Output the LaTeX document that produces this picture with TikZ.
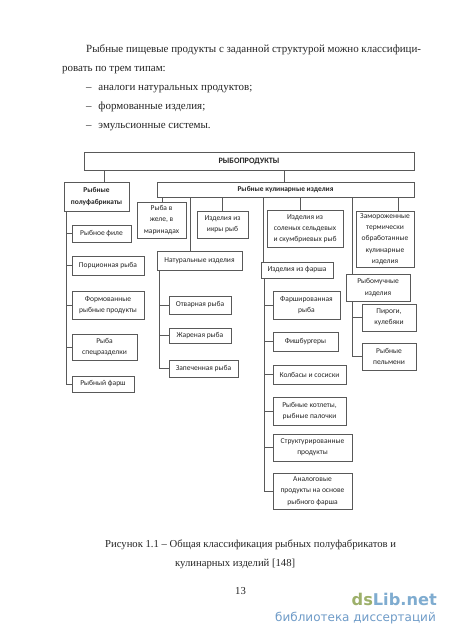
\documentclass[tikz,border=0pt]{standalone}
\usepackage{fontspec}
\setmainfont{Liberation Serif}
\newfontfamily\boxfont{Carlito}
\newfontfamily\markfont{DejaVu Sans}
\definecolor{ln}{gray}{0.35}
\definecolor{txt}{gray}{0.15}
\definecolor{markblue}{HTML}{7FACD0}
\definecolor{markgreen}{HTML}{9DB06A}
\definecolor{subblue}{HTML}{6E9BC8}
\tikzset{
  cbox/.style={draw=ln,line width=0.7pt,inner sep=0pt,align=center,text=txt,font=\boxfont\fontsize{7.5}{11.3}\selectfont},
  cbold/.style={cbox,font=\boxfont\bfseries\fontsize{7.4}{11.3}\selectfont},
  cmain/.style={cbox,font=\boxfont\bfseries\fontsize{8.2}{11.3}\selectfont},
  link/.style={draw=ln,line width=0.7pt},
  para/.style={anchor=base west,inner sep=0pt,text=txt,font=\fontsize{10.97}{13}\selectfont},
  capt/.style={anchor=base west,inner sep=0pt,text=txt,font=\fontsize{10.67}{13}\selectfont},
}
\newcommand{\bx}[7][cbox]{%
  \pgfmathsetmacro{\cxx}{(#3+#5)/2}\pgfmathsetmacro{\cyy}{(#4+#6)/2}%
  \pgfmathsetmacro{\wdd}{#5-#3}\pgfmathsetmacro{\htt}{#6-#4}%
  \node[#1,minimum width=\wdd pt,minimum height=\htt pt] (#2) at (\cxx,\cyy) {#7};}
\begin{document}
\begin{tikzpicture}[x=1pt,y=-1pt]
\useasboundingbox (0,0) rectangle (450,637);
\fill[white] (0,0) rectangle (450,637);
% body text
\node[para] (p1) at (86,52) {Рыбные пищевые продукты с заданной структурой можно классифици-};
\node[para] (p2) at (62,71) {ровать по трем типам:};
\node[para] (p3) at (86,90) {–\hspace{4pt} аналоги натуральных продуктов;};
\node[para] (p4) at (86,109) {–\hspace{4pt} формованные изделия;};
\node[para] (p5) at (86,128) {–\hspace{4pt} эмульсионные системы.};
\node[capt] (c1) at (105,547) {Рисунок 1.1 – Общая классификация рыбных полуфабрикатов и};
\node[capt] (c2) at (175,566) {кулинарных изделий [148]};
\node[capt] (pg) at (235,594) {13};
% boxes
\bx[cmain]{top}{84}{152}{414}{170}{РЫБОПРОДУКТЫ}
\bx[cbold]{pol}{64}{182}{129}{211}{Рыбные\\полуфабрикаты}
\bx[cbold]{kul}{157}{182}{414}{197}{Рыбные кулинарные изделия}
\bx{zhe}{137}{202}{186}{238}{Рыба в\\желе, в\\маринадах}
\bx{ikr}{197}{211}{248}{238}{Изделия из\\икры рыб}
\bx{nat}{157}{251}{242}{270}{Натуральные изделия}
\bx{sol}{267}{210}{343}{247}{Изделия из\\соленых сельдевых\\и скумбриевых рыб}
\bx{zam}{356}{211}{414}{267}{Замороженные\\термически\\обработанные\\кулинарные\\изделия}
\bx{izf}{261}{262}{333}{278}{Изделия из фарша}
\bx{muc}{346}{274}{410}{301}{Рыбомучные\\изделия}
\bx{pir}{362}{304}{416}{331}{Пироги,\\кулебяки}
\bx{pel}{362}{343}{416}{370}{Рыбные\\пельмени}
\bx{fsh}{273}{291}{340}{319}{Фаршированная\\рыба}
\bx{fis}{273}{332}{338}{351}{Фишбургеры}
\bx{kol}{273}{365}{346}{384}{Колбасы и сосиски}
\bx{kot}{273}{397}{346}{425}{Рыбные котлеты,\\рыбные палочки}
\bx{str}{273}{434}{352}{461}{Структурированные\\продукты}
\bx{ana}{273}{473}{352}{509}{Аналоговые\\продукты на основе\\рыбного фарша}
\bx{fil}{72}{225}{131}{242}{Рыбное филе}
\bx{por}{72}{256}{144}{275}{Порционная рыба}
\bx{frm}{72}{291}{144}{319}{Формованные\\рыбные продукты}
\bx{spe}{72}{334}{137}{360}{Рыба\\спецразделки}
\bx{far}{72}{376}{134}{392}{Рыбный фарш}
\bx{otv}{169}{296}{231}{314}{Отварная рыба}
\bx{zha}{169}{328}{231}{343}{Жареная рыба}
\bx{zap}{169}{360}{238}{377}{Запеченная рыба}
% connector anchors
\coordinate (a) at (104,0);
\coordinate (b) at (284,0);
\coordinate (d1) at (162,0);
\coordinate (d2) at (190,0);
\coordinate (d3) at (222,0);
\coordinate (d4) at (263,0);
\coordinate (d5) at (300,0);
\coordinate (d6) at (352,0);
\coordinate (d7) at (398,0);
\coordinate (s1) at (66,0);
\coordinate (s2) at (159,0);
\coordinate (s3) at (264,0);
\coordinate (s4) at (352,0);
% connectors
\draw[link] (a |- top.south) -- (a |- pol.north);
\draw[link] (b |- top.south) -- (b |- kul.north);
\draw[link] (d1 |- kul.south) -- (d1 |- zhe.north);
\draw[link] (d2 |- kul.south) -- (d2 |- nat.north);
\draw[link] (d3 |- kul.south) -- (d3 |- ikr.north);
\draw[link] (d4 |- kul.south) -- (d4 |- izf.north);
\draw[link] (d5 |- kul.south) -- (d5 |- sol.north);
\draw[link] (d6 |- kul.south) -- (d6 |- muc.north);
\draw[link] (d7 |- kul.south) -- (d7 |- zam.north);
\draw[link] (s1 |- pol.south) -- (s1 |- far.west) -- (far.west);
\draw[link] (s1 |- fil.west) -- (fil.west);
\draw[link] (s1 |- por.west) -- (por.west);
\draw[link] (s1 |- frm.west) -- (frm.west);
\draw[link] (s1 |- spe.west) -- (spe.west);
\draw[link] (s2 |- nat.south) -- (s2 |- zap.west) -- (zap.west);
\draw[link] (s2 |- otv.west) -- (otv.west);
\draw[link] (s2 |- zha.west) -- (zha.west);
\draw[link] (s3 |- izf.south) -- (s3 |- ana.west) -- (ana.west);
\draw[link] (s3 |- fsh.west) -- (fsh.west);
\draw[link] (s3 |- fis.west) -- (fis.west);
\draw[link] (s3 |- kol.west) -- (kol.west);
\draw[link] (s3 |- kot.west) -- (kot.west);
\draw[link] (s3 |- str.west) -- (str.west);
\draw[link] (s4 |- muc.south) -- (s4 |- pel.west) -- (pel.west);
\draw[link] (s4 |- pir.west) -- (pir.west);
% watermark
\node[anchor=base east,inner sep=0pt,font=\markfont\bfseries\fontsize{16.2}{20}\selectfont] (wm) at (437,605) {\textcolor{markgreen}{ds}\textcolor{markblue}{Lib.net}};
\node[anchor=base east,inner sep=0pt,text=subblue,font=\markfont\fontsize{12}{12}\selectfont] (wm2) at (436,621) {библиотека диссертаций};
\end{tikzpicture}
\end{document}
